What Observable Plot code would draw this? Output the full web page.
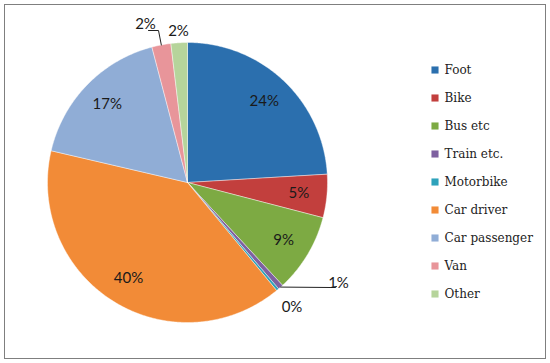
<!DOCTYPE html>
<html><head><meta charset="utf-8">
<script src="https://cdn.jsdelivr.net/npm/d3@7"></script>
<script src="https://cdn.jsdelivr.net/npm/@observablehq/plot@0.6"></script>
<style>body{margin:0;background:#fff}</style>
</head><body><div id="chart"></div>
<script>
const categories = ["Foot","Bike","Bus etc","Train etc.","Motorbike","Car driver","Car passenger","Van","Other"];
const shares = [24.1, 5.0, 9.1, 0.6, 0.3, 39.7, 17.3, 2.2, 1.9];
const labels = ["24%","5%","9%","1%","0%","40%","17%","2%","2%"];
const colors = ["#2B6FAE","#C23F3D","#7DAA43","#7E60A0","#2EA2BB","#F28B37","#90ADD6","#E8959A","#B6D49B"];

const rows = categories.map((name, i) => ({name, value: shares[i], label: labels[i]}));
const arcs = d3.pie().sort(null).value(d => d.value).startAngle(0).endAngle(2 * Math.PI)(rows);
const pt = (a, r) => [r * Math.sin(a), r * Math.cos(a)];

// slice outlines
const slicePts = [];
arcs.forEach(a => {
  const n = Math.max(2, Math.ceil((a.endAngle - a.startAngle) / 0.01));
  slicePts.push({name: a.data.name, p: [0, 0]});
  for (let k = 0; k <= n; k++) {
    slicePts.push({name: a.data.name, p: pt(a.startAngle + (a.endAngle - a.startAngle) * k / n, 1)});
  }
  slicePts.push({name: a.data.name, p: [0, 0]});
});

// label placement
const px = v => v / 140;
const lab = [];
const leaders = [];
arcs.forEach((a, i) => {
  const mid = (a.startAngle + a.endAngle) / 2;
  const name = a.data.name;
  let pos, anchor = "middle";
  if (name === "Train etc.") {
    pos = [px(338 - 187), px(182 - 283)]; anchor = "start";
    const e = pt(mid, 1);
    [e, [px(330 - 187), px(182 - 287)], [px(336 - 187), px(182 - 286)]].forEach(p => leaders.push({k: name, p}));
  } else if (name === "Motorbike") {
    pos = pt(mid, 1.16);
  } else if (name === "Van") {
    pos = [px(145 - 187), px(182 - 24)]; anchor = "end";
    const e = pt(mid, 1);
    [e, [px(158 - 187), px(182 - 30)], [px(148 - 187), px(182 - 30)]].forEach(p => leaders.push({k: name, p}));
  } else if (name === "Other") {
    pos = pt(mid, 1.08);
  } else {
    pos = pt(mid, 0.8);
  }
  lab.push({text: a.data.label, x: pos[0], y: pos[1], anchor});
});

const lx = px(434.5 - 187), lt = px(444 - 187), ly0 = px(182 - 69.5), step = px(28);

const chart = Plot.plot({
  width: 550, height: 363,
  marginLeft: 4, marginTop: 4, marginRight: 5, marginBottom: 5,
  x: {axis: null, domain: [-1, 1], range: [47, 327]},
  y: {axis: null, domain: [-1, 1], range: [322, 42]},
  color: {domain: categories, range: colors},
  marks: [
    Plot.frame({stroke: "#7f7f7f", strokeWidth: 1}),
    Plot.line(slicePts, {x: d => d.p[0], y: d => d.p[1], z: "name", fill: "name", stroke: "#ffffff", strokeWidth: 0.6, strokeOpacity: 0.7, curve: "linear"}),
    Plot.line(leaders, {x: d => d.p[0], y: d => d.p[1], z: "k", stroke: "#222", strokeWidth: 1}),
    Plot.text(lab, {x: "x", y: "y", text: "text", textAnchor: d => d.anchor, fontFamily: "Lato", fontSize: 15, fill: "#1a1a1a"}),
    Plot.dot(categories, {x: () => lx, y: (d, i) => ly0 - i * step, symbol: "square", r: 4, fill: d => d}),
    Plot.text(categories, {x: () => lt, y: (d, i) => ly0 - i * step, text: d => d, textAnchor: "start", fontFamily: "DejaVu Serif", fontSize: 12, fill: "#222"})
  ]
});
document.getElementById("chart").append(chart);
</script>
</body></html>
